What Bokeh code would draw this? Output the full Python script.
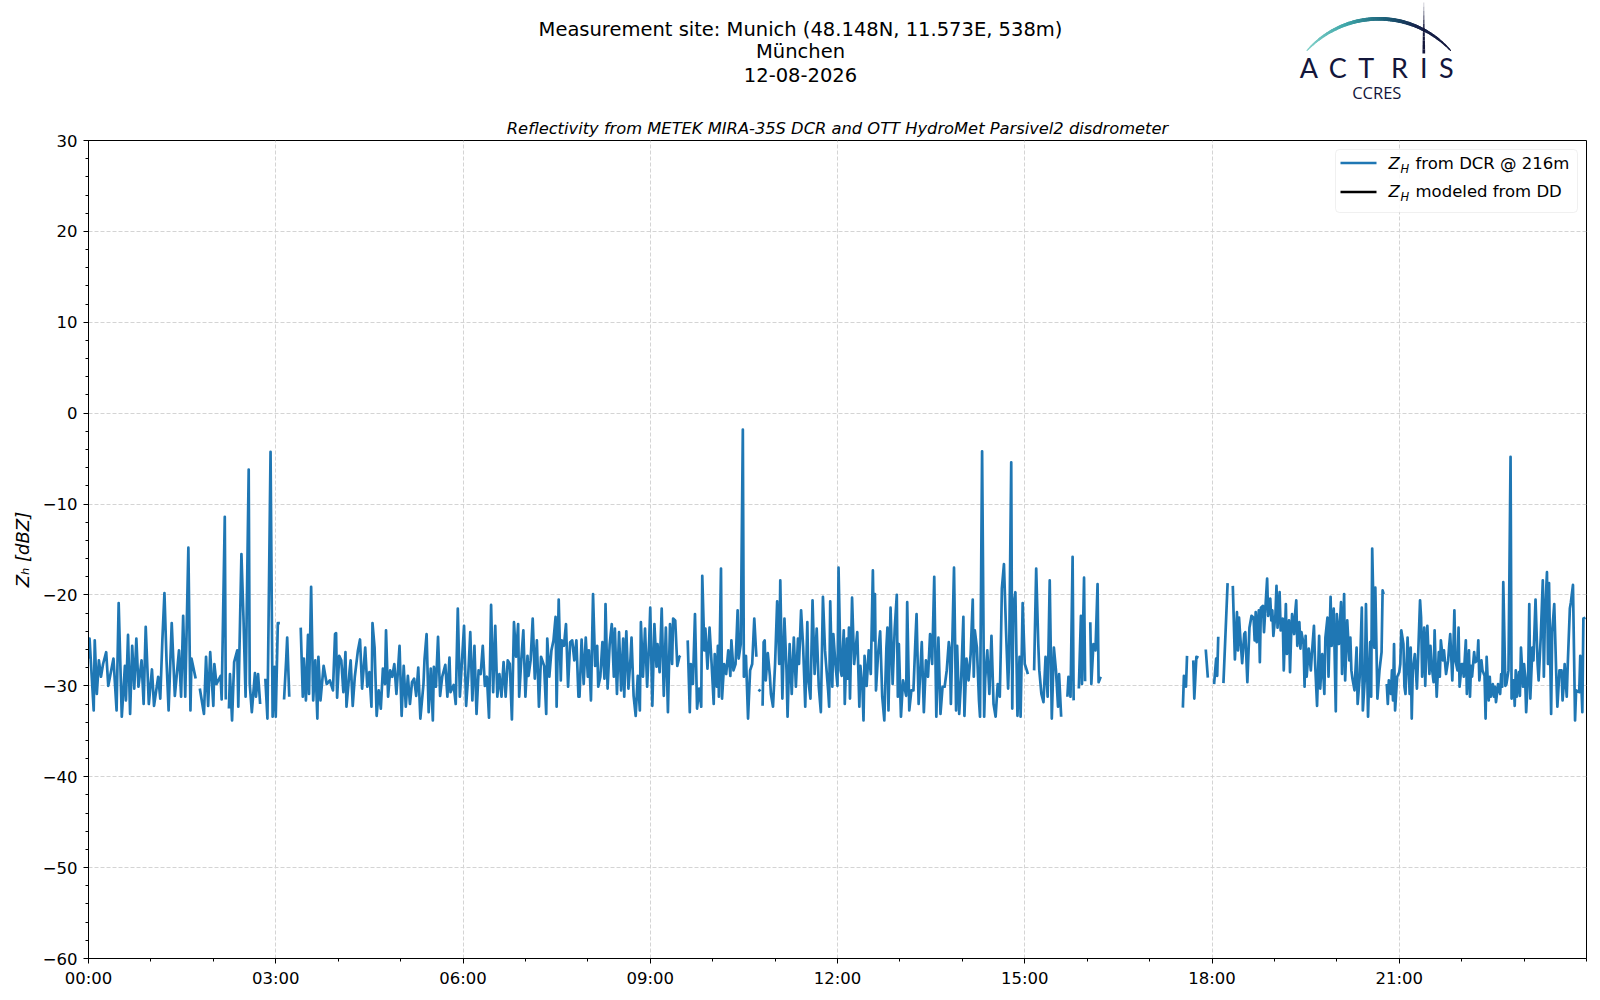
import math
import numpy as np
from bokeh.plotting import figure
from bokeh.models import Range1d, FixedTicker, BoxAnnotation, ColumnDataSource
from bokeh.layouts import column
from bokeh.embed import file_html
from bokeh.resources import INLINE
from bokeh.core.properties import value

# ---------------- texts ----------------
title_lines = ["Measurement site: Munich (48.148N, 11.573E, 538m)", "München", "12-08-2026"]
subtitle = "Reflectivity from METEK MIRA-35S DCR and OTT HydroMet Parsivel2 disdrometer"
y_label = "Z\u2095 [dBZ]"
legend_z = ["Z", "H"]
legend_main = ["from DCR @ 216m", "modeled from DD"]
logo_letters = ["A", "C", "T", "R", "I", "S"]
logo_sub = "CCRES"

# ---------------- ticks ----------------
x_tick_hours = [0, 3, 6, 9, 12, 15, 18, 21]
x_tick_labels = ["00:00", "03:00", "06:00", "09:00", "12:00", "15:00", "18:00", "21:00"]
x_minor_hours = list(range(0, 25))
y_ticks = [-60, -50, -40, -30, -20, -10, 0, 10, 20, 30]
y_tick_labels = ["\u221260", "\u221250", "\u221240", "\u221230", "\u221220", "\u221210", "0", "10", "20", "30"]
y_minor = list(range(-60, 31, 2))

# ---------------- data: (minute of day, Z_H dBZ) from DCR @ 216 m; None = no data ----------------
dcr_samples = [
    (0, -27.0), (1, -24.8), (5, -32.7), (6, -25.0), (8, -30.9), (10, -27.2), (12, -29.0), (14, -27.6),
    (17, -26.3), (19, -30.0), (24, -27.0), (27, -32.7), (29, -20.9), (32, -33.4), (35, -27.8), (36, -31.6),
    (38, -24.4), (40, -33.1), (42, -25.6), (44, -30.3), (46, -24.8), (48, -30.1), (51, -27.2), (53, -32.0),
    (55, -23.5), (58, -32.0), (61, -28.2), (63, -32.2), (67, -29.0), (69, -31.4), (71, -25.0), (73, -19.8),
    (75, -27.2), (77, -32.7), (80, -23.1), (83, -31.1), (87, -26.1), (89, -31.2), (91, -22.3), (93, -31.2),
    (96, -14.8), (98, -32.7), (99, -27.0), (103, -29.2), (105, None), (107, -30.3), (111, -33.1), (113, -26.8),
    (115, -32.2), (117, -26.3), (120, -32.2), (121, -27.6), (123, -29.8), (127, -28.9), (128, -31.5), (131, -11.4),
    (132, -31.5), (133, None), (135, -32.5), (136, -28.7), (138, -33.8), (140, -27.4), (143, -26.1), (144, -32.3),
    (147, -15.5), (149, -22.6), (151, -31.2), (152, -22.8), (154, -6.2), (155, -29.8), (157, -32.9), (160, -28.6),
    (161, -31.2), (163, -28.7), (165, -32.0), (167, None), (170, -29.2), (172, -33.6), (175, -4.25), (177, -33.4),
    (179, -27.9), (180, -33.4), (182, -23.1), (184, -23.1), (186, None), (188, -31.5), (190, -27.2), (191, -24.7),
    (193, -31.2), (195, None), (204, -23.6), (206, -31.2), (207, -27.0), (209, -31.6), (211, -24.4), (212, -30.9),
    (214, -19.1), (216, -31.6), (218, -27.2), (220, -33.6), (221, -26.8), (223, -31.6), (226, -27.8), (229, -29.8),
    (232, -29.4), (235, -30.5), (237, -24.3),
    (238, -24.2), (239, -31.3), (241, -26.7), (243, -27.2), (245, -30.7), (247, -26.3), (248, -32.3), (251, -28.3),
    (252, -27.2), (254, -32.2), (256, -29.0), (259, -26.1), (261, -24.9), (263, -30.3), (266, -25.8), (268, -30.1),
    (270, -28.5), (272, -32.3), (273, -23.1), (275, -25.8), (277, -33.3), (279, -30.5), (281, -32.5), (283, -28.1),
    (285, -29.8), (286, -23.9), (288, -31.2), (290, -28.3), (292, -29.0), (294, -27.6), (296, -30.9), (299, -25.6),
    (301, -33.3), (303, -27.8), (305, -32.3), (307, -28.9), (309, -32.0), (311, -29.6), (313, -29.2), (315, -31.1),
    (317, -28.0), (319, -33.6), (322, -29.8), (323, -27.1), (325, -24.3), (327, -32.9), (329, -28.1), (331, -33.8),
    (332, -27.9), (334, -30.1), (336, -24.6), (338, -31.1), (340, -29.0), (343, -27.7), (345, -31.2), (347, -26.9),
    (348, -30.7), (351, -29.9), (353, -32.0), (355, -21.5), (357, -31.2), (361, -23.4), (363, -32.2), (365, -28.9),
    (367, -24.1), (369, -31.6), (371, -25.6), (373, -33.1), (375, -28.3), (377, -28.7), (379, -25.6), (381, -30.0),
    (383, -29.0), (385, -33.5), (387, -21.1), (389, -30.7), (391, -23.4), (393, -31.2), (395, -28.7), (397, -31.2),
    (399, -27.4), (401, -31.2), (403, -27.2), (405, -27.6), (407, -33.7), (409, -23.0), (411, -26.8), (413, -23.2),
    (414, -31.2), (416, -27.2), (418, -23.9), (420, -31.2), (422, -26.7), (423, -28.9), (425, -27.2), (427, -22.6),
    (429, -29.2), (431, -25.0), (433, -32.3), (435, -26.8), (438, -27.8), (440, -33.1), (441, -24.8), (443, -29.0),
    (445, -26.1), (447, -25.0), (449, -22.4), (450, -32.3), (452, -20.5), (454, -29.4), (455, -25.0), (457, -25.6),
    (459, -23.2), (461, -30.1), (463, -25.2), (465, -25.0), (467, -27.2), (469, -25.0), (471, -31.2),
    (472, -31.2), (474, -24.9), (476, -29.8), (478, -24.7), (480, -29.0), (481, -26.1), (483, -31.6), (485, -19.9),
    (487, -27.8), (489, -25.6), (490, -30.1), (492, -29.0), (494, -25.2), (496, -29.2), (497, -21.0), (499, -30.3),
    (501, -25.4), (503, -23.2), (505, -29.0), (506, -23.7), (508, -30.9), (510, -24.1), (512, -30.5), (514, -24.8),
    (515, -31.2), (517, -24.0), (519, -30.3), (521, -27.0), (522, -24.7), (524, -31.1), (526, -33.3), (528, -28.9),
    (530, -32.7), (531, -23.0), (533, -29.0), (535, -23.7), (537, -30.1), (539, -25.0), (540, -21.4), (542, -32.2),
    (544, -23.2), (546, -27.9), (547, -25.4), (549, -28.5), (551, -21.5), (553, -31.1), (555, -23.6), (557, -32.9),
    (559, -23.2), (561, -27.6), (562, -22.6), (564, -22.8), (566, -27.8), (568, -26.8), (569, -26.7), (571, None),
    (576, -25.0), (578, -32.9), (579, -27.6), (581, -29.8), (583, -22.1), (585, -32.5), (587, -30.3), (589, -32.3),
    (590, -17.9), (592, -26.1), (593, -23.7), (595, -28.1), (597, -23.6), (599, -27.6), (601, -32.0), (602, -26.5),
    (604, -30.1), (605, -25.6), (606, -31.2), (608, -17.1), (609, -31.4), (611, -27.6), (613, -28.7), (615, -26.1),
    (617, -28.9), (618, -25.0), (620, -28.3), (622, -27.6), (624, -21.7), (625, -27.0), (627, -25.4), (629, -1.8),
    (630, -29.0), (632, -26.7), (634, -33.6), (636, -28.3), (638, -27.6), (640, -22.6), (642, -26.8), (643, None),
    (644, -30.6), (646, -30.4), (647, None), (648, -32.2), (649, -25.2), (650, -25.0), (651, -29.4), (653, -26.4),
    (655, -28.9), (656, -30.9), (658, -32.3), (660, -27.6), (662, -20.7), (664, -27.6), (665, -18.4), (667, -31.4),
    (669, -22.6), (671, -28.3), (672, -33.4), (674, -25.4), (676, -30.9), (678, -24.7), (680, -30.1), (682, -24.8),
    (683, -27.6), (685, -21.7), (687, -25.8), (689, -32.3), (691, -23.0), (692, -29.4), (694, -31.4), (696, -20.6),
    (698, -28.7), (700, -23.7), (702, -30.1), (704, -32.9), (706, -20.2), (708, -26.1),
    (709, -27.6), (711, -30.5), (712, -32.3), (713, -20.7), (715, -30.1), (716, -24.3), (718, -27.6), (720, -30.0),
    (721, -17.0), (723, -28.3), (724, -28.9), (726, -23.9), (727, -32.0), (729, -24.8), (730, -29.2), (731, -23.6),
    (732, -31.4), (734, -20.3), (736, -27.6), (739, -24.1), (741, -32.3), (742, -27.8), (744, -30.3), (745, -33.8),
    (746, -26.7), (748, -30.0), (750, -26.1), (752, -28.7), (754, -17.3), (755, -25.0), (756, -19.9), (757, -30.5),
    (759, -26.5), (761, -24.0), (763, -31.2), (765, -33.8), (767, -25.8), (768, -23.6), (769, -32.7), (771, -21.4),
    (773, -29.8), (775, -23.7), (777, -20.0), (778, -31.2), (779, -25.4), (781, -33.4), (783, -29.4), (786, -31.1),
    (787, -20.8), (789, -32.7), (791, -30.5), (793, -30.5), (795, -24.7), (796, -22.1), (798, -32.0), (801, -25.2),
    (803, -32.9), (805, -27.2), (807, -29.0), (809, -24.3), (811, -27.6), (813, -18.0), (815, -33.4), (817, -24.7),
    (819, -33.1), (821, -30.1), (823, -30.1), (825, -28.3), (827, -25.2), (828, -26.1), (829, -32.0), (832, -17.0),
    (834, -32.7), (835, -25.6), (837, -33.1), (839, -28.9), (841, -22.4), (842, -33.3), (844, -27.0), (846, -29.4),
    (848, -26.5), (850, -20.5), (851, -29.0), (852, -23.9), (854, -25.8), (856, -31.6), (857, -33.4), (859, -4.2),
    (861, -33.4), (862, -29.2), (864, -26.1), (866, -30.9), (868, -24.5), (870, -32.0), (872, -33.4), (874, -29.8),
    (876, -31.2), (877, -25.9), (878, -19.3), (880, -16.6), (882, -23.9), (884, -30.3), (885, -26.8), (887, -5.4),
    (888, -32.5), (889, -21.4), (891, -19.7), (893, -33.3), (895, -26.8), (896, -33.4), (898, -20.9), (900, -27.6),
    (902, -28.3), (903, -28.7), (906, None), (909, -28.3), (911, -17.1), (913, -25.4), (914, -28.3), (916, -30.9),
    (918, -31.8), (920, -26.8), (922, -31.2), (924, -18.4), (926, -33.6), (928, -25.8), (930, -28.3), (932, -32.3),
    (933, -28.7), (935, -33.4), (938, None), (941, -31.2), (942, -29.0), (944, -31.2), (946, -15.8), (947, -31.6),
    (949, None), (952, -30.3), (954, -22.3), (955, -29.8), (957, -18.1), (958, -29.5), (960, None), (963, -23.0),
    (964, -29.8), (966, -25.4), (968, -26.1), (970, -18.8), (971, -29.6), (973, -29.0), (975, None),
    (1052, -32.4), (1053, -28.9), (1055, -30.1), (1056, -26.7), (1058, None), (1062, -27.2), (1063, -31.4),
    (1065, -26.8), (1067, -26.9), (1070, None), (1074, -26.0), (1076, -29.1), (1079, None), (1082, -29.8),
    (1084, -27.0), (1085, -28.9), (1086, -24.6), (1088, None), (1091, -29.7), (1095, -18.7), (1097, None),
    (1100, -19.0), (1102, -27.1), (1104, -21.9), (1105, -26.1), (1106, -22.5), (1107, -24.3), (1109, -27.5),
    (1111, -24.3), (1112, -24.1), (1114, -29.6), (1116, -23.6), (1118, -22.3), (1120, -22.5), (1121, -25.0),
    (1122, -21.9), (1123, -25.2), (1125, -21.7), (1126, -27.4), (1127, -21.4), (1129, -21.2), (1130, -24.1),
    (1131, -22.1), (1133, -18.2), (1134, -22.3), (1136, -20.4), (1137, -22.8), (1138, -21.7), (1139, -24.5),
    (1141, -22.1), (1142, -19.0), (1143, -23.6), (1145, -19.7), (1146, -23.9), (1148, -22.6), (1149, -28.3),
    (1151, -21.0), (1152, -26.5), (1154, -22.8), (1155, -28.5), (1156, -24.7), (1157, -22.1), (1159, -24.3),
    (1160, -21.9), (1161, -20.6), (1162, -25.6), (1164, -23.0), (1165, -25.9), (1166, -24.1), (1168, -25.4),
    (1169, -30.1), (1170, -24.5), (1171, -29.0), (1173, -25.9), (1175, -28.3), (1176, -26.5), (1178, -23.4),
    (1179, -27.2), (1181, -32.2), (1183, -24.5), (1184, -30.3), (1186, -26.5), (1188, -30.9), (1189, -24.7),
    (1191, -22.5), (1192, -29.0), (1194, -20.2), (1195, -25.6), (1197, -21.5), (1199, -32.8), (1200, -22.1),
    (1202, -25.4), (1204, -20.8), (1205, -28.7), (1207, -19.9), (1208, -29.4), (1210, -22.8), (1212, -27.2),
    (1213, -24.7),
    (1214, -28.3), (1215, -29.2), (1217, -30.5), (1219, -25.8), (1220, -32.0), (1222, -29.0), (1224, -21.4),
    (1225, -32.7), (1227, -29.0), (1228, -21.0), (1230, -33.4), (1232, -25.2), (1233, -31.2), (1234, -14.9),
    (1236, -25.8), (1237, -19.2), (1239, -31.4), (1241, -28.3), (1243, -26.3), (1244, -19.5), (1245, -19.9),
    (1246, None), (1248, -29.8), (1249, -32.0), (1250, -29.4), (1252, -30.9), (1253, -28.3), (1254, -31.6),
    (1255, -25.4), (1256, -32.7), (1258, -29.0), (1260, -28.5), (1261, -27.6), (1262, -23.9), (1264, -25.4),
    (1265, -30.1), (1266, -30.9), (1268, -24.7), (1270, -30.9), (1271, -25.8), (1272, -33.6), (1273, -28.3),
    (1275, -26.5), (1277, -30.3), (1278, -27.2), (1280, -20.6), (1281, -22.5), (1282, -29.0), (1284, -23.6),
    (1285, -30.0), (1286, -25.8), (1287, -23.4), (1289, -28.7), (1290, -25.6), (1291, -27.6), (1293, -29.6),
    (1294, -23.9), (1295, -27.9), (1296, -31.2), (1298, -26.3), (1299, -29.0), (1300, -25.0), (1302, -27.2),
    (1303, -26.1), (1305, -28.7), (1307, -27.2), (1308, -25.6), (1309, -24.3), (1311, -29.4), (1312, -26.1),
    (1313, -21.7), (1314, -27.2), (1316, -28.3), (1317, -23.6), (1318, -30.1), (1320, -27.6), (1321, -27.6),
    (1322, -29.0), (1324, -25.0), (1325, -30.9), (1327, -26.1), (1328, -31.2), (1329, -27.8), (1330, -29.0),
    (1332, -26.3), (1333, -27.4), (1335, -27.2), (1336, -25.0), (1337, -29.4), (1339, -27.2), (1340, -28.3),
    (1342, -28.9), (1343, -33.6), (1344, -26.8), (1346, -31.6), (1347, -29.0), (1348, -31.2), (1350, -29.8),
    (1351, -31.2), (1352, -30.1), (1353, -31.8), (1355, -29.8), (1357, -30.9), (1358, -28.7), (1359, -30.1),
    (1360, -18.6), (1362, -30.0), (1363, -29.8), (1365, -28.3), (1367, -4.8), (1368, -31.4), (1370, -29.4),
    (1371, -32.2), (1372, -28.3), (1373, -31.2), (1375, -28.5), (1376, -31.1), (1377, -25.8), (1379, -30.1),
    (1380, -27.6), (1381, -29.0), (1382, -32.9), (1384, -28.3), (1385, -21.0), (1386, -31.4), (1388, -25.8),
    (1389, -27.2), (1391, -20.5), (1393, -27.6), (1394, -29.4), (1396, -24.7), (1398, -18.4), (1399, -29.0),
    (1400, -22.5), (1402, -17.5), (1403, -27.6), (1404, -18.7), (1406, -33.1), (1407, -24.1), (1409, -21.0),
    (1411, -29.0), (1412, -32.3), (1414, -28.3), (1416, -28.3), (1417, -31.6), (1418, -30.1), (1419, -27.6),
    (1421, -31.2), (1422, -27.6), (1424, -21.5), (1425, -20.8), (1427, -18.9), (1429, -33.8), (1430, -30.5),
    (1433, -30.7), (1434, -26.7), (1436, -32.9), (1437, -22.6), (1439, -22.5),
]
dcr_minutes = [m for m, _ in dcr_samples]
dcr_zh = [np.nan if v is None else v for _, v in dcr_samples]

# modeled Z_H from the disdrometer: no values on this day
dd_minutes = []
dd_zh = []

# ---------------- layout constants (page pixels) ----------------
W = 1590
HEADER_H = 114
MAIN_H = 876
B_LEFT, B_RIGHT, B_TOP, B_BOTTOM = 88, 4, 26, 32
FR_L, FR_R = B_LEFT, W - B_RIGHT
FR_T, FR_B = HEADER_H + B_TOP, HEADER_H + MAIN_H - B_BOTTOM

FONT = "DejaVu Sans"
BLUE = "#1f77b4"
NAVY = "#13163b"


def hx(px):
    return (px - FR_L) / (FR_R - FR_L) * 24.0


def vy(py):
    return 30.0 - (py - FR_T) / (FR_B - FR_T) * 90.0


def mid(baseline, size, k=0.346):
    # y of the em-box middle for a given alphabetic baseline
    return baseline - k * size


# ---------------- main figure ----------------
p = figure(width=W, height=MAIN_H, x_range=Range1d(0, 24), y_range=Range1d(-60, 30),
           output_backend="svg", toolbar_location=None,
           min_border_left=B_LEFT, min_border_right=B_RIGHT, min_border_top=B_TOP, min_border_bottom=B_BOTTOM)
p.title.text = subtitle
p.title.align = "center"
p.title.text_font = FONT
p.title.text_font_style = "italic"
p.title.text_font_size = "16.3px"
p.title.text_color = "black"
p.title.standoff = 5
p.title.offset = 0
p.background_fill_color = "white"
p.border_fill_color = "white"
p.outline_line_color = "black"
p.outline_line_width = 1

xt = FixedTicker(ticks=x_tick_hours, minor_ticks=x_minor_hours)
yt = FixedTicker(ticks=y_ticks, minor_ticks=y_minor)
p.xaxis.ticker = xt
p.yaxis.ticker = yt
p.xaxis.major_label_overrides = {h: lab for h, lab in zip(x_tick_hours, x_tick_labels)}
p.yaxis.major_label_overrides = {t: lab for t, lab in zip(y_ticks, y_tick_labels)}
for ax in (p.xaxis, p.yaxis):
    ax.axis_line_color = "black"
    ax.major_tick_line_color = "black"
    ax.minor_tick_line_color = "black"
    ax.major_tick_out = 5
    ax.major_tick_in = 0
    ax.minor_tick_out = 3
    ax.minor_tick_in = 0
    ax.major_label_text_font = FONT
    ax.major_label_text_font_size = "16.5px"
    ax.major_label_text_color = "black"
p.xaxis.major_label_standoff = 5
p.yaxis.major_label_standoff = 6
p.yaxis.axis_label = y_label
p.yaxis.axis_label_text_font = FONT
p.yaxis.axis_label_text_font_style = "italic"
p.yaxis.axis_label_text_font_size = "18px"
p.yaxis.axis_label_text_color = "black"
p.yaxis.axis_label_standoff = 7

p.xgrid.ticker = xt
p.ygrid.ticker = yt
p.grid.grid_line_color = "#d4d4d4"
p.grid.grid_line_width = 1
p.grid.grid_line_dash = "4 2"

src = ColumnDataSource(data=dict(h=[m / 60.0 for m in dcr_minutes], zh=dcr_zh))
p.line(x="h", y="zh", source=src, line_color=BLUE, line_width=2.7, line_join="round")
dd_src = ColumnDataSource(data=dict(h=[m / 60.0 for m in dd_minutes], zh=dd_zh))
p.line(x="h", y="zh", source=dd_src, line_color="black", line_width=2.7)

# legend (drawn by hand to get the subscript)
p.add_layout(BoxAnnotation(left=hx(1335), right=hx(1577), top=vy(149), bottom=vy(212),
                           fill_color="white", fill_alpha=0.85, line_color="#cccccc", line_width=1,
                           border_radius=4, level="underlay"))
for py, col in ((162.5, BLUE), (191.5, "black")):
    p.line(x=[hx(1340), hx(1376)], y=[vy(py), vy(py)], line_color=col, line_width=2.7)
row_base = [168.5, 197.0]
p.text(x=[hx(1388)] * 2, y=[vy(mid(b, 16.5)) for b in row_base], text=[legend_z[0]] * 2,
       text_font=value(FONT), text_font_style="italic", text_font_size="16.5px",
       text_baseline="middle", text_align="left", text_color="black")
p.text(x=[hx(1400)] * 2, y=[vy(mid(b + 3.6, 11.5)) for b in row_base], text=[legend_z[1]] * 2,
       text_font=value(FONT), text_font_style="italic", text_font_size="11.5px",
       text_baseline="middle", text_align="left", text_color="black")
p.text(x=[hx(1415)] * 2, y=[vy(mid(b, 16.5)) for b in row_base], text=legend_main,
       text_font=value(FONT), text_font_size="16.5px",
       text_baseline="middle", text_align="left", text_color="black")

# ---------------- header figure (titles + logo), x in page pixels ----------------
h = figure(width=W, height=HEADER_H, x_range=Range1d(FR_L, FR_R), y_range=Range1d(HEADER_H, 0),
           output_backend="svg", toolbar_location=None,
           min_border_left=B_LEFT, min_border_right=B_RIGHT, min_border_top=0, min_border_bottom=0,
           x_axis_location=None, y_axis_location=None, outline_line_color=None)
h.title.visible = False
h.grid.visible = False

h.text(x=[800] * 3, y=[28.6, 51, 74.5], text=title_lines,
       text_font=value(FONT), text_font_size="19.5px", text_align="center",
       text_baseline="middle", text_color="black")


def lerp_col(stops, t):
    for (t0, c0), (t1, c1) in zip(stops[:-1], stops[1:]):
        if t <= t1:
            f = (t - t0) / (t1 - t0) if t1 > t0 else 0
            a = [int(c0[i:i + 2], 16) for i in (1, 3, 5)]
            b = [int(c1[i:i + 2], 16) for i in (1, 3, 5)]
            return "#%02x%02x%02x" % tuple(int(round(a[k] + (b[k] - a[k]) * f)) for k in range(3))
    return stops[-1][1]


stops = [(0.0, "#86d3cb"), (0.3, "#3fa7a9"), (0.55, "#1c5f78"), (0.75, "#17244c"), (1.0, "#13163b")]
cx, cy, R = 1378.3, 115.3, 97.0
th_max = math.asin(71.7 / 97.0)
N = 80
x0s, y0s, x1s, y1s, cols, ws = [], [], [], [], [], []
for i in range(N):
    t0, t1 = i / N, (i + 1) / N
    a0 = -th_max + 2 * th_max * t0
    a1 = -th_max + 2 * th_max * t1
    x0s.append(cx + R * math.sin(a0)); y0s.append(cy - R * math.cos(a0))
    x1s.append(cx + R * math.sin(a1)); y1s.append(cy - R * math.cos(a1))
    tm = (t0 + t1) / 2
    cols.append(lerp_col(stops, tm))
    ws.append(1.0 + 2.8 * math.sin(math.pi * tm) ** 0.7)
h.segment(x0=x0s, y0=y0s, x1=x1s, y1=y1s, line_color=cols, line_width=ws, line_cap="round")

# vertical stroke above the I
vx = 1423.3
M = 12
vs_y0 = [2 + i * 51.0 / M for i in range(M)]
vs_y1 = [2 + (i + 1) * 51.0 / M for i in range(M)]
h.segment(x0=[vx] * M, y0=vs_y0, x1=[vx] * M, y1=vs_y1, line_color=NAVY,
          line_alpha=[min(1.0, 0.25 + 0.12 * i) for i in range(M)],
          line_width=[0.8 + 0.17 * i for i in range(M)])

h.text(x=[1308.3, 1337.3, 1365.7, 1399, 1423.3, 1445.7], y=[mid(77.7, 27, 0.387)] * 6,
       text=logo_letters, text_font=value("Lato"), text_font_size="27px",
       text_align="center", text_baseline="middle", text_color=NAVY)
h.text(x=[1376.3], y=[mid(98.3, 16.5, 0.388)], text=[logo_sub], text_font=value("Open Sans"),
       text_font_size="16.5px", text_align="center", text_baseline="middle", text_color=NAVY)

layout = column(h, p, spacing=0)
open("out.html", "w").write(file_html(layout, INLINE))
